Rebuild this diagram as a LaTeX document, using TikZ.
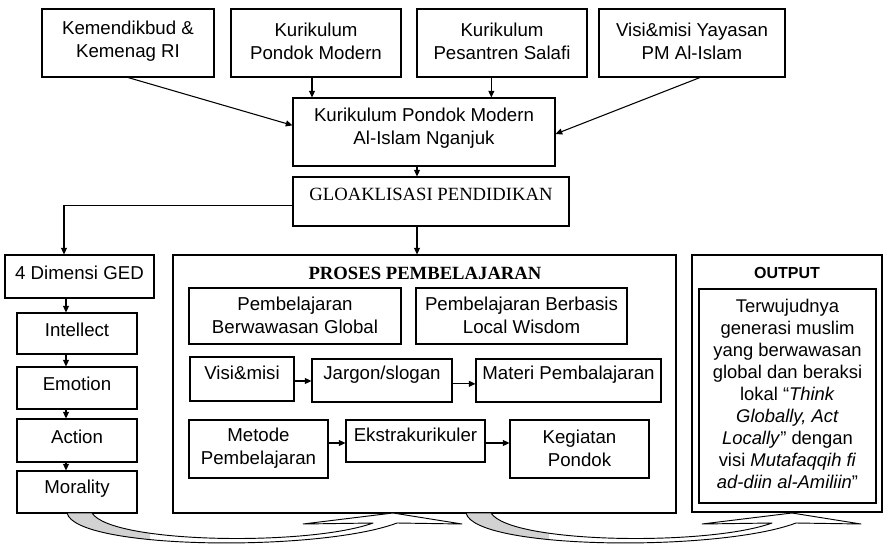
\documentclass[tikz,border=0pt]{standalone}
\usepackage{fontspec}
\setmainfont{Liberation Sans}
\newfontfamily\serifA{Liberation Serif}
\usetikzlibrary{fit,arrows.meta}
\newcommand\mybox[7]{%
  \node[box, fit={(#2,#3)(#4,#5)}] (#1) {};
  \node[txt] (#1-t) at ({(#2+#4)/2},#6) {#7};}
\begin{document}
\begin{tikzpicture}[x=0.75pt,y=-0.75pt,
  box/.style={draw, line width=0.8pt, inner sep=0pt},
  txt/.style={align=center, inner sep=0pt, font=\fontsize{14}{17}\selectfont},
  otxt/.style={align=center, inner sep=0pt, font=\fontsize{13.8}{16.5}\selectfont},
  ttl/.style={inner sep=0pt, font=\serifA\fontsize{14}{17}\selectfont},
  arr/.style={line width=0.8pt, -{Triangle[length=5pt,width=4.5pt]}},
  ln/.style={line width=0.8pt},
  curv/.pic={
    \path[fill=white] (67,513) .. controls (76,550) and (320,552) .. (397,523) -- (462,524) -- (393,513) -- (303,524) -- (373,523) .. controls (310,546) and (112,544) .. (92,513) -- cycle;
    \begin{scope}
      \clip (55,505) rectangle (150,555);
      \fill[gray!35] (67,513) .. controls (76,550) and (320,552) .. (397,523) -- (462,524) -- (393,513) -- (303,524) -- (373,523) .. controls (310,546) and (112,544) .. (92,513) -- cycle;
    \end{scope}
    \draw[line width=0.7pt, line join=round] (67,513) .. controls (76,550) and (320,552) .. (397,523) -- (462,524) -- (393,513) -- (303,524) -- (373,523) .. controls (310,546) and (112,544) .. (92,513) -- cycle;
  }]
\useasboundingbox (0,0) rectangle (884,545);

% top row
\mybox{A}{42}{9}{214}{77}{41}{Kemendikbud \&\\Kemenag RI}
\mybox{B}{231}{9}{401}{77}{41}{Kurikulum\\Pondok Modern}
\mybox{C}{417}{9}{587}{77}{41}{Kurikulum\\Pesantren Salafi}
\mybox{D}{599}{9}{785}{77}{41}{Visi\&misi Yayasan\\PM Al-Islam}
\mybox{K}{293}{98}{555}{166}{128}{Kurikulum Pondok Modern\\Al-Islam Nganjuk}

% globalisasi
\node[box, fit={(293,177)(569,226)}] (GL) {};
\node[ttl] (GL-t) at (431,194) {GLOAKLISASI PENDIDIKAN};

% left column
\mybox{G}{5}{255}{154}{298}{273}{4 Dimensi GED}
\mybox{I}{17}{313}{137}{354}{330}{Intellect}
\mybox{E}{17}{367}{137}{409}{384}{Emotion}
\mybox{Ac}{17}{419}{137}{462}{437}{Action}
\mybox{Mo}{17}{471}{137}{513}{489}{Morality}

% proses
\node[box, fit={(173,255)(676,513)}] (PR) {};
\node[ttl, font=\serifA\bfseries\fontsize{14}{17}\selectfont] (PR-t) at (425,273) {PROSES PEMBELAJARAN};
\mybox{PG}{189}{288}{401}{344}{315}{Pembelajaran\\Berwawasan Global}
\mybox{PL}{416}{288}{627}{344}{315}{Pembelajaran Berbasis\\Local Wisdom}
\mybox{VM}{190}{357}{294}{401}{373}{Visi\&misi}
\mybox{JS}{312}{359}{452}{402}{375}{Jargon/slogan}
\mybox{MP}{476}{359}{661}{402}{375}{Materi Pembalajaran}
\mybox{ME}{189}{420}{328}{478}{448}{Metode\\Pembelajaran}
\mybox{EK}{346}{420}{485}{462}{435}{Ekstrakurikuler}
\mybox{KG}{510}{420}{649}{478}{448}{Kegiatan\\Pondok}

% output
\node[box, fit={(692,255)(882,512)}] (OU) {};
\node[inner sep=0pt, font=\bfseries\fontsize{12}{14}\selectfont] (OU-t) at (787,273) {OUTPUT};
\node[box, fit={(699,289)(876,503)}] (OI) {};
\node[otxt] (OI-t) at (787.5,394) {Terwujudnya\\generasi muslim\\yang berwawasan\\global dan beraksi\\lokal ``\textit{Think}\\\textit{Globally, Act}\\\textit{Locally}'' dengan\\visi \textit{Mutafaqqih fi}\\\textit{ad-diin al-Amiliin}''};

% helper coordinates
\coordinate (c1) at (417,0);
\coordinate (c2) at (66,0);
\coordinate (c3) at (64,0);

% connectors top
\draw[arr] (A.south) -- ([yshift=5pt]K.west);
\draw[arr] ([xshift=-3pt]B.south) -- ([xshift=-3pt]B.south |- K.north);
\draw[arr] ([xshift=-8pt]C.south) -- ([xshift=-8pt]C.south |- K.north);
\draw[arr] ([xshift=6pt]D.south) -- ([yshift=-1.5pt]K.east);
\draw[arr] (K.south -| c1) -- (GL.north -| c1);
\draw[arr] (GL.south -| c1) -- (PR.north -| c1);
\draw[arr] ([yshift=-3pt]GL.west) -| (G.north -| c3);

% left column connectors
\draw[arr] (G.south -| c2) -- (I.north -| c2);
\draw[arr] (I.south -| c2) -- (E.north -| c2);
\draw[arr] (E.south -| c2) -- (Ac.north -| c2);
\draw[arr] (Ac.south -| c2) -- (Mo.north -| c2);

% proses connectors
\draw[arr] ([yshift=-1.5pt]VM.east) -- ([yshift=-1.5pt]VM.east -| JS.west);
\draw[arr] ([yshift=-2.5pt]JS.east) -- ([yshift=-2.5pt]JS.east -| MP.west);
\draw[arr] ([yshift=-1.5pt]EK.west -| ME.east) -- ([yshift=-1.5pt]EK.west);
\draw[arr] ([yshift=-1.5pt]EK.east) -- ([yshift=-1.5pt]EK.east -| KG.west);

% curved arrows
\pic at (0,0) {curv};
\pic at (399,0) {curv};
\end{tikzpicture}
\end{document}
